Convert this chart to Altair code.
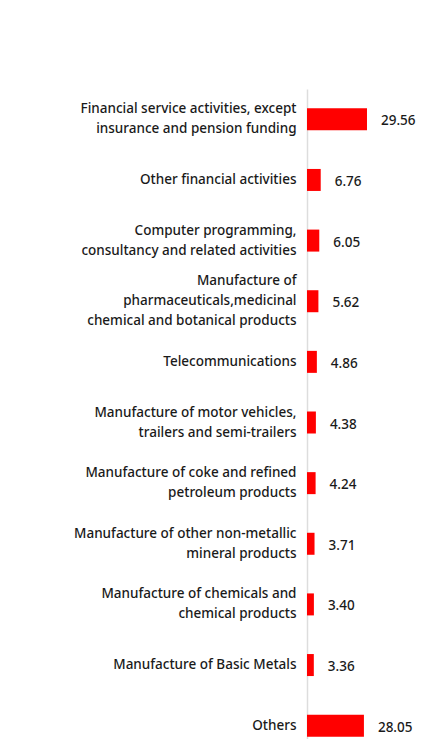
import altair as alt
import pandas as pd

categories = [
    "Financial service activities, except|insurance and pension funding",
    "Other financial activities",
    "Computer programming,|consultancy and related activities",
    "Manufacture of\u00a0|pharmaceuticals,medicinal|chemical and botanical products",
    "Telecommunications",
    "Manufacture of motor vehicles,|trailers and semi-trailers",
    "Manufacture of coke and refined|petroleum products",
    "Manufacture of other non-metallic\u00a0|mineral products",
    "Manufacture of chemicals and\u00a0|chemical products",
    "Manufacture of Basic Metals\u00a0",
    "Others",
]
values = [29.56, 6.76, 6.05, 5.62, 4.86, 4.38, 4.24, 3.71, 3.40, 3.36, 28.05]
value_labels = ["29.56", "6.76", "6.05", "5.62", "4.86", "4.38", "4.24", "3.71", "3.40", "3.36", "28.05"]

df = pd.DataFrame({"cat": categories, "val": values, "lab": value_labels})

FONT = "Noto Sans"

label_offset = {
    "condition": [
        {"test": "length(split(datum.label, '|')) == 3", "value": -20},
        {"test": "length(split(datum.label, '|')) == 2", "value": -10},
    ],
    "value": 0,
}

y = alt.Y(
    "cat:N",
    sort=categories,
    title=None,
    scale=alt.Scale(range=[0, 667], paddingInner=0, paddingOuter=0),
    axis=alt.Axis(
        labelExpr="split(datum.label, '|')",
        labelFont=FONT,
        labelFontSize=13.5,
        labelFontWeight=500,
        labelColor="#1a1a1a",
        labelLineHeight=20,
        labelPadding=11,
        labelLimit=400,
        labelOffset=label_offset,
        ticks=False,
        domainColor="#dddddd",
        domainWidth=1.5,
        grid=False,
    ),
)
x = alt.X("val:Q", title=None, scale=alt.Scale(domain=[0, 54.2]), axis=None)

bars = alt.Chart(df).mark_bar(color="#ff0000", size=22).encode(x=x, y=y)
text = alt.Chart(df).mark_text(
    align="left", baseline="middle", dx=14, dy=2,
    font=FONT, fontSize=13.5, fontWeight=500, color="#1a1a1a",
).encode(x=x, y=y, text="lab:N")

chart = (bars + text).properties(
    width=110,
    height=650,
    autosize=alt.AutoSizeParams(type="none"),
    padding={"left": 299, "top": 81, "right": 6, "bottom": 0},
).configure_view(stroke=None)

chart.save("out.html", embed_options={"renderer": "svg", "actions": False})
